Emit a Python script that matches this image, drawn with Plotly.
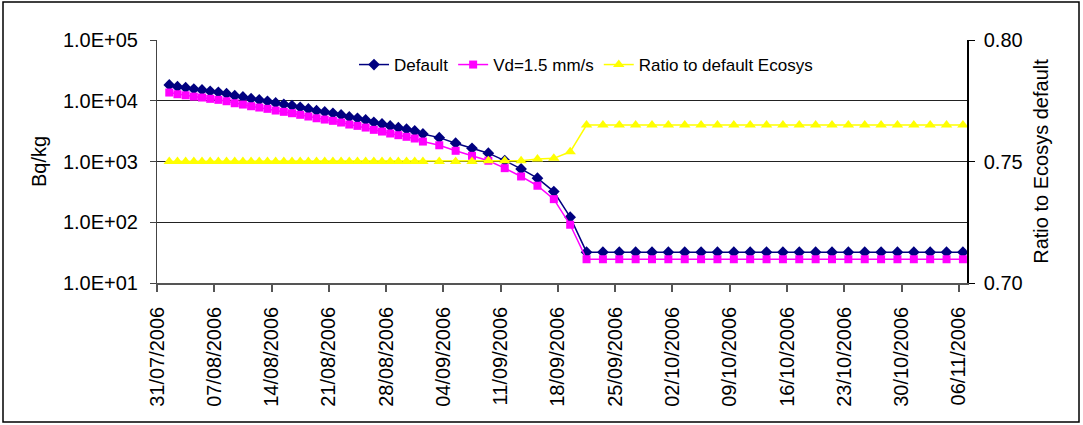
import pandas as pd
import plotly.graph_objects as go

dates = [
    "2006-08-01", "2006-08-02", "2006-08-03", "2006-08-04", "2006-08-05", "2006-08-06", "2006-08-07", "2006-08-08",
    "2006-08-09", "2006-08-10", "2006-08-11", "2006-08-12", "2006-08-13", "2006-08-14", "2006-08-15", "2006-08-16",
    "2006-08-17", "2006-08-18", "2006-08-19", "2006-08-20", "2006-08-21", "2006-08-22", "2006-08-23", "2006-08-24",
    "2006-08-25", "2006-08-26", "2006-08-27", "2006-08-28", "2006-08-29", "2006-08-30", "2006-08-31", "2006-09-01",
    "2006-09-03", "2006-09-05", "2006-09-07", "2006-09-09", "2006-09-11", "2006-09-13", "2006-09-15", "2006-09-17",
    "2006-09-19", "2006-09-21", "2006-09-23", "2006-09-25", "2006-09-27", "2006-09-29", "2006-10-01", "2006-10-03",
    "2006-10-05", "2006-10-07", "2006-10-09", "2006-10-11", "2006-10-13", "2006-10-15", "2006-10-17", "2006-10-19",
    "2006-10-21", "2006-10-23", "2006-10-25", "2006-10-27", "2006-10-29", "2006-10-31", "2006-11-02", "2006-11-04",
    "2006-11-06",
]

default_bq = [
    18200, 17060, 16400, 15600, 15060, 14330, 13800, 13090, 12140, 11550, 10830, 10310, 9810, 9200, 8760, 8300,
    7820, 7330, 6870, 6540, 6230, 5840, 5410, 5150, 4830, 4430, 4150, 3850, 3610, 3400, 3190, 2840,
    2470, 2000, 1650, 1370, 1035, 756, 531, 320, 121, 32.2, 32.2, 32.2, 32.2, 32.2, 32.2, 32.2,
    32.2, 32.2, 32.2, 32.2, 32.2, 32.2, 32.2, 32.2, 32.2, 32.2, 32.2, 32.2, 32.2, 32.2, 32.2, 32.2,
    32.2,
]

vd15_bq = [
    13650, 12800, 12300, 11700, 11300, 10750, 10350, 9820, 9100, 8660, 8120, 7730, 7360, 6900, 6570, 6230,
    5870, 5500, 5150, 4900, 4670, 4380, 4060, 3860, 3620, 3320, 3110, 2890, 2710, 2550, 2390, 2130,
    1850, 1500, 1240, 1030, 777, 567, 399, 240, 91, 24.6, 24.6, 24.6, 24.6, 24.6, 24.6, 24.6,
    24.6, 24.6, 24.6, 24.6, 24.6, 24.6, 24.6, 24.6, 24.6, 24.6, 24.6, 24.6, 24.6, 24.6, 24.6, 24.6,
    24.6,
]

ratio = [
    0.750, 0.750, 0.750, 0.750, 0.750, 0.750, 0.750, 0.750, 0.750, 0.750, 0.750, 0.750, 0.750, 0.750, 0.750, 0.750,
    0.750, 0.750, 0.750, 0.750, 0.750, 0.750, 0.750, 0.750, 0.750, 0.750, 0.750, 0.750, 0.750, 0.750, 0.750, 0.750,
    0.750, 0.750, 0.750, 0.7503, 0.7503, 0.7503, 0.751, 0.7513, 0.754, 0.765, 0.765, 0.765, 0.765, 0.765, 0.765, 0.765,
    0.765, 0.765, 0.765, 0.765, 0.765, 0.765, 0.765, 0.765, 0.765, 0.765, 0.765, 0.765, 0.765, 0.765, 0.765, 0.765,
    0.765,
]

left_tickvals = [1e1, 1e2, 1e3, 1e4, 1e5]
left_ticktext = ["1.0E+01", "1.0E+02", "1.0E+03", "1.0E+04", "1.0E+05"]
right_tickvals = [0.70, 0.75, 0.80]

# points sit in the middle of their day (Excel date axis)
x = pd.to_datetime(dates) + pd.Timedelta(hours=12)

FONT = "Liberation Sans, Arial, sans-serif"

fig = go.Figure()
fig.add_trace(go.Scatter(
    x=x, y=default_bq, name="Default", mode="lines+markers",
    line=dict(color="#000080", width=1.5),
    marker=dict(symbol="diamond", size=9, color="#000080"),
))
fig.add_trace(go.Scatter(
    x=x, y=vd15_bq, name="Vd=1.5 mm/s", mode="lines+markers",
    line=dict(color="#FF00FF", width=1.5),
    marker=dict(symbol="square", size=8, color="#FF00FF"),
))
fig.add_trace(go.Scatter(
    x=x, y=ratio, name="Ratio to default Ecosys", mode="lines+markers", yaxis="y2",
    line=dict(color="#FFFF00", width=1.5),
    marker=dict(symbol="triangle-up", size=10, color="#FFFF00"),
))

W, H = 1083, 425
L, R, T, B = 157, 967, 40, 283
pw, ph = R - L, B - T

fig.update_layout(
    width=W, height=H,
    margin=dict(l=L, r=W - R, t=T, b=H - B, pad=0),
    paper_bgcolor="white", plot_bgcolor="white",
    font=dict(family=FONT, size=20, color="black"),
    showlegend=True,
    legend=dict(
        orientation="h", x=(354 - L) / pw, xanchor="left", y=(B - 65) / ph, yanchor="middle",
        font=dict(size=17, family=FONT), bgcolor="rgba(255,255,255,0)", borderwidth=0,
        itemwidth=30, tracegroupgap=0,
    ),
    xaxis=dict(
        type="date", range=["2006-07-31", "2006-11-07"],
        tick0="2006-07-31", dtick=7 * 24 * 3600 * 1000, tickformat="%d/%m/%Y",
        tickangle=-90, ticks="outside", ticklen=7, tickcolor="#555", tickwidth=1.5,
        ticklabelstandoff=7,
        showline=True, linecolor="#555", linewidth=1.5, showgrid=False, zeroline=False,
        automargin=False, tickfont=dict(size=20),
    ),
    yaxis=dict(
        type="log", range=[1, 5], tickvals=left_tickvals, ticktext=left_ticktext,
        ticks="outside", ticklen=6, tickcolor="#444", showline=True, linecolor="#444", linewidth=1,
        ticklabelstandoff=8,
        showgrid=True, gridcolor="#222", gridwidth=1, zeroline=False,
        title=dict(text="Bq/kg", standoff=10, font=dict(size=20)), automargin=False,
        tickfont=dict(size=20),
    ),
    yaxis2=dict(
        overlaying="y", side="right", range=[0.70, 0.80], tickvals=right_tickvals, tickformat=".2f",
        ticks="outside", ticklen=6, tickcolor="black", showline=True, linecolor="black", linewidth=1.5,
        ticklabelstandoff=5,
        showgrid=False, zeroline=False,
        title=dict(text="Ratio to Ecosys default", standoff=12, font=dict(size=20)), automargin=False,
        tickfont=dict(size=20),
    ),
    shapes=[
        dict(type="rect", xref="paper", yref="paper",
             x0=(3 - L) / pw, x1=(1079 - L) / pw, y0=(B - 422) / ph, y1=(B - 2) / ph,
             line=dict(color="black", width=1.5), fillcolor="rgba(0,0,0,0)", layer="below"),
    ],
)

fig.write_html(
    "out.html",
    config={"displayModeBar": False},
    post_script="document.body.style.margin='0';document.body.style.overflow='hidden';",
)
